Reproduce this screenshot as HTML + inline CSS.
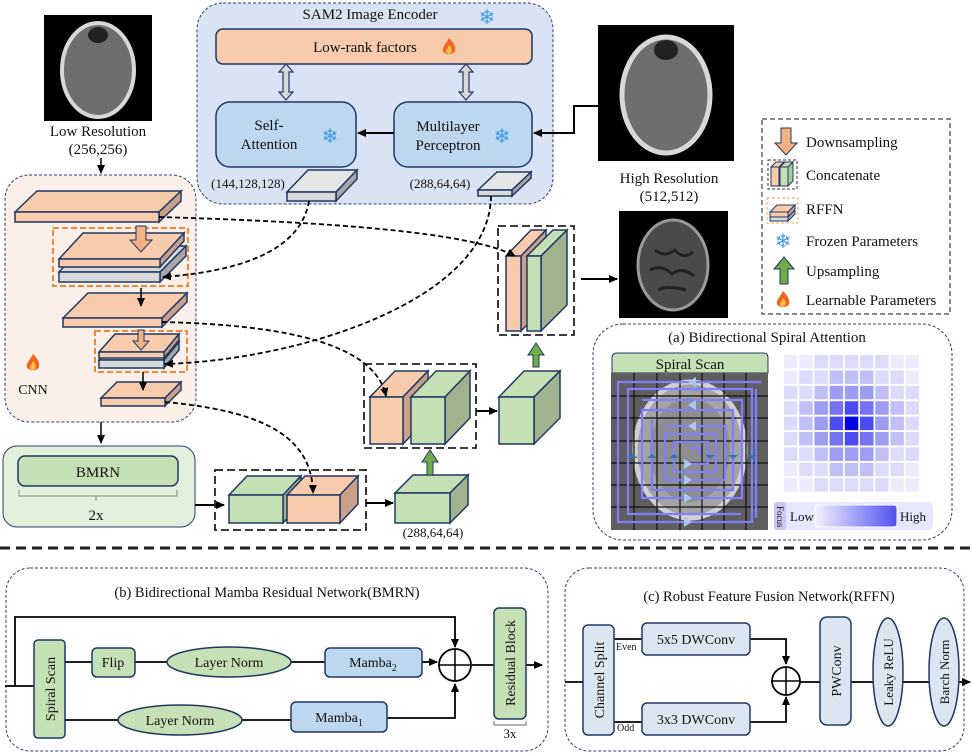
<!DOCTYPE html>
<html><head><meta charset="utf-8"><style>
html,body{margin:0;padding:0;background:#fff}
svg{display:block}
text{font-family:"Liberation Serif",serif}
.sf{font-family:"DejaVu Sans",sans-serif}
</style></head><body>
<svg width="972" height="754" viewBox="0 0 972 754" xmlns="http://www.w3.org/2000/svg" fill="#111">
<defs>
<marker id="ah" markerWidth="10" markerHeight="10" refX="8" refY="5" orient="auto" markerUnits="userSpaceOnUse"><path d="M0,1 L9,5 L0,9 Z" fill="#000"/></marker>
<g id="fire"><path d="M0,-9 C5,-4 7,0 6,4 C5,8 -5,8 -6,4 C-7,0 -3,-3 0,-9 Z" fill="#f26522"/><path d="M0,-2 C3,1 3,4 2,6 C0,7 -2,7 -3,5 C-3,3 -1,1 0,-2 Z" fill="#fcc33d"/></g>
</defs>

<!-- Low res image -->
<rect x="44" y="15" width="108" height="106" fill="#000"/>
<ellipse cx="98" cy="70" rx="36" ry="47" fill="#6e6e6e" stroke="#d8d8d8" stroke-width="4"/>
<ellipse cx="98" cy="35" rx="10" ry="8" fill="#222"/>
<text x="98" y="136" font-size="15" text-anchor="middle">Low Resolution</text>
<text x="98" y="154" font-size="15" text-anchor="middle">(256,256)</text>
<line x1="101" y1="158" x2="101" y2="173" stroke="#000" stroke-width="1.5" marker-end="url(#ah)"/>

<!-- SAM2 -->
<rect x="197" y="3" width="356" height="201" rx="26" fill="#dae3f3" stroke="#2f3f6e" stroke-dasharray="3,2"/>
<text x="370" y="19" font-size="15" text-anchor="middle">SAM2 Image Encoder</text>
<text x="487" y="24" font-size="20" text-anchor="middle" class="sf" fill="#3d9be9">❄</text>
<rect x="216" y="29" width="316" height="35" rx="7" fill="#f8cbad" stroke="#203864" stroke-width="1.5"/>
<text x="365" y="52" font-size="15" text-anchor="middle">Low-rank factors</text>
<use href="#fire" x="449" y="47"/>
<g fill="#d9d9d9" stroke="#203864" stroke-width="1.2">
<path d="M286,64 L293,72 L289,72 L289,92 L293,92 L286,100 L279,92 L283,92 L283,72 L279,72 Z"/>
<path d="M466,64 L473,72 L469,72 L469,92 L473,92 L466,100 L459,92 L463,92 L463,72 L459,72 Z"/>
</g>
<rect x="216" y="102" width="140" height="65" rx="14" fill="#bdd7ee" stroke="#203864" stroke-width="1.5"/>
<text x="269" y="130" font-size="15" text-anchor="middle">Self-</text>
<text x="269" y="149" font-size="15" text-anchor="middle">Attention</text>
<text x="330" y="143" font-size="20" text-anchor="middle" class="sf" fill="#3d9be9">❄</text>
<rect x="394" y="102" width="138" height="65" rx="14" fill="#bdd7ee" stroke="#203864" stroke-width="1.5"/>
<text x="448" y="131" font-size="15" text-anchor="middle">Multilayer</text>
<text x="448" y="150" font-size="15" text-anchor="middle">Perceptron</text>
<text x="502" y="143" font-size="20" text-anchor="middle" class="sf" fill="#3d9be9">❄</text>
<line x1="394" y1="133" x2="358" y2="133" stroke="#000" stroke-width="2" marker-end="url(#ah)"/>
<!-- gray slabs -->
<g stroke="#203864" stroke-width="1.5">
<polygon points="287,192 308,170 357,170 336,192" fill="#e6e6e6"/>
<polygon points="336,192 357,170 357,179 336,201" fill="#a6a6a6"/>
<rect x="287" y="192" width="49" height="9" fill="#d9d9d9"/>
<polygon points="478,190 497,172 531,172 512,190" fill="#e6e6e6"/>
<polygon points="512,190 531,172 531,178 512,196" fill="#a6a6a6"/>
<rect x="478" y="190" width="34" height="6" fill="#d9d9d9"/>
</g>
<text x="248" y="188" font-size="13" text-anchor="middle">(144,128,128)</text>
<text x="440" y="188" font-size="13" text-anchor="middle">(288,64,64)</text>

<!-- High res -->
<rect x="598" y="25" width="136" height="136" fill="#000"/>
<ellipse cx="666" cy="95" rx="44" ry="58" fill="#6e6e6e" stroke="#d8d8d8" stroke-width="5"/>
<ellipse cx="666" cy="50" rx="12" ry="10" fill="#222"/>
<text x="669" y="183" font-size="15" text-anchor="middle">High Resolution</text>
<text x="669" y="201" font-size="15" text-anchor="middle">(512,512)</text>
<polyline points="598,106 574,106 574,133 534,133" fill="none" stroke="#000" stroke-width="2" marker-end="url(#ah)"/>
<!-- MRI -->
<rect x="619" y="211" width="109" height="107" fill="#000"/>
<ellipse cx="673" cy="265" rx="35" ry="45" fill="#4a4a4a" stroke="#9a9a9a" stroke-width="3"/>
<path d="M655,250 q10,8 20,0 q8,10 18,2 M650,270 q12,-6 22,4 q10,-8 22,2 M658,290 q10,-5 28,0" stroke="#222" stroke-width="3" fill="none"/>

<!-- Legend -->
<rect x="762" y="119" width="188" height="195" fill="#fff" stroke="#444" stroke-dasharray="5,3" stroke-width="1.2"/>
<path d="M781,128 L791,128 L791,143 L797,143 L786,155 L775,143 L781,143 Z" fill="#f4b183" stroke="#203864"/>
<rect x="768" y="160" width="29" height="29" fill="none" stroke="#333" stroke-dasharray="3,2"/>
<g stroke="#203864" stroke-width="1">
<polygon points="771,167 776,162 784,162 779,167" fill="#f8cbad"/><rect x="771" y="167" width="8" height="19" fill="#f8cbad"/>
<polygon points="780,167 785,162 793,162 788,167" fill="#c5e0b4"/><rect x="780" y="167" width="8" height="19" fill="#c5e0b4"/>
<polygon points="788,167 793,162 793,181 788,186" fill="#a9d18e"/>
</g>
<rect x="767" y="198" width="31" height="25" fill="none" stroke="#f4a460" stroke-dasharray="3,2"/>
<g stroke="#203864" stroke-width="1">
<polygon points="770,212 777,205 795,205 788,212" fill="#f8cbad"/><rect x="770" y="212" width="18" height="5" fill="#f8cbad"/><polygon points="788,212 795,205 795,210 788,217" fill="#c9a08a"/>
<rect x="770" y="217" width="18" height="4" fill="#d9d9d9"/><polygon points="788,217 795,210 795,214 788,221" fill="#aaa"/>
</g>
<text x="783" y="248" font-size="20" text-anchor="middle" class="sf" fill="#3d9be9">❄</text>
<path d="M780,284 L788,284 L788,269 L794,269 L784,257 L774,269 L780,269 Z" fill="#70ad47" stroke="#203864"/>
<use href="#fire" x="783" y="300"/>
<g font-size="15">
<text x="806" y="147">Downsampling</text>
<text x="806" y="180">Concatenate</text>
<text x="806" y="214">RFFN</text>
<text x="806" y="246">Frozen Parameters</text>
<text x="806" y="276">Upsampling</text>
<text x="806" y="305">Learnable Parameters</text>
</g>

<!-- CNN box -->
<rect x="5" y="175" width="191" height="247" rx="24" fill="#fbf0e9" stroke="#2f3f6e" stroke-dasharray="3,2"/>
<g stroke="#203864" stroke-width="1.5">
<polygon points="15,212 37,191 181,191 159,212" fill="#f8cbad"/><polygon points="159,212 181,191 181,201 159,222" fill="#c9a08a"/><rect x="15" y="212" width="144" height="10" fill="#f8cbad"/>
<polygon points="59,272 83,246 186,246 160,272" fill="#d9d9d9"/><polygon points="160,272 186,246 186,256 160,282" fill="#a6a6a6"/><rect x="59" y="272" width="101" height="10" fill="#d9d9d9"/>
<polygon points="59,259 83,233 184,233 160,259" fill="#f8cbad"/><polygon points="160,259 184,233 184,241 160,267" fill="#c9a08a"/><rect x="59" y="259" width="101" height="8" fill="#f8cbad"/>
<polygon points="63,318 88,293 187,293 162,318" fill="#f8cbad"/><polygon points="162,318 187,293 187,302 162,327" fill="#c9a08a"/><rect x="63" y="318" width="99" height="9" fill="#f8cbad"/>
<polygon points="99,360 114,342 179,342 164,360" fill="#d9d9d9"/><polygon points="164,360 179,342 179,350 164,368" fill="#a6a6a6"/><rect x="99" y="360" width="65" height="8" fill="#d9d9d9"/>
<polygon points="99,352 115,334 179,334 164,352" fill="#f8cbad"/><polygon points="164,352 179,334 179,340 164,358" fill="#c9a08a"/><rect x="99" y="352" width="65" height="6" fill="#f8cbad"/>
<polygon points="101,398 117,382 181,382 165,398" fill="#f8cbad"/><polygon points="165,398 181,382 181,390 165,406" fill="#c9a08a"/><rect x="101" y="398" width="64" height="8" fill="#f8cbad"/>
</g>
<rect x="53" y="228" width="135" height="58" fill="none" stroke="#f4883a" stroke-width="2" stroke-dasharray="6,3"/>
<rect x="95" y="331" width="92" height="41" fill="none" stroke="#f4883a" stroke-width="2" stroke-dasharray="6,3"/>
<path d="M136,226 L146,226 L146,240 L152,240 L141,252 L130,240 L136,240 Z" fill="#f4b183" stroke="#203864"/>
<path d="M138,330 L144,330 L144,341 L149,341 L141,350 L133,341 L138,341 Z" fill="#f4b183" stroke="#203864"/>
<line x1="141" y1="288" x2="141" y2="306" stroke="#000" stroke-width="1.5" marker-end="url(#ah)"/>
<line x1="143" y1="372" x2="143" y2="390" stroke="#000" stroke-width="1.5" marker-end="url(#ah)"/>
<use href="#fire" x="33" y="363"/>
<text x="33" y="394" font-size="14" text-anchor="middle">CNN</text>
<line x1="101" y1="422" x2="101" y2="443" stroke="#000" stroke-width="1.5" marker-end="url(#ah)"/>

<!-- BMRN -->
<rect x="3" y="446" width="192" height="81" rx="14" fill="#e2efda" stroke="#2f3f6e" stroke-width="1"/>
<rect x="18" y="456" width="160" height="30" rx="7" fill="#c5e0b4" stroke="#203864" stroke-width="1.5"/>
<text x="98" y="477" font-size="15" text-anchor="middle">BMRN</text>
<path d="M19,490 L19,496 L96,496 L96,501 M96,496 L177,496 L177,490" fill="none" stroke="#888"/>
<text x="96" y="520" font-size="15" text-anchor="middle">2x</text>
<line x1="195" y1="505" x2="224" y2="505" stroke="#000" stroke-width="2" marker-end="url(#ah)"/>

<!-- Concat A -->
<rect x="215" y="470" width="151" height="60" fill="none" stroke="#222" stroke-width="1.8" stroke-dasharray="8,4"/>
<g stroke="#203864" stroke-width="1.5">
<polygon points="229,495 247,476 301,476 283,495" fill="#c5e0b4"/><polygon points="283,495 301,476 301,504 283,523" fill="#9fb38f"/><rect x="229" y="495" width="54" height="28" fill="#c5e0b4"/>
<polygon points="287,495 305,476 358,476 340,495" fill="#f8cbad"/><polygon points="340,495 358,476 358,504 340,523" fill="#c9a08a"/><rect x="287" y="495" width="53" height="28" fill="#f8cbad"/>
<polygon points="395,493 413,475 468,475 450,493" fill="#c5e0b4"/><polygon points="450,493 468,475 468,505 450,523" fill="#9fb38f"/><rect x="395" y="493" width="55" height="30" fill="#c5e0b4"/>
</g>
<line x1="366" y1="503" x2="393" y2="503" stroke="#000" stroke-width="2" marker-end="url(#ah)"/>
<text x="433" y="537" font-size="13" text-anchor="middle">(288,64,64)</text>
<path d="M427,475 L433,475 L433,462 L438,462 L430,450 L422,462 L427,462 Z" fill="#70ad47" stroke="#203864"/>

<!-- Concat B -->
<rect x="364" y="364" width="112" height="84" fill="none" stroke="#222" stroke-width="1.8" stroke-dasharray="8,4"/>
<g stroke="#203864" stroke-width="1.5">
<polygon points="370,397 395,371 428,371 403,397" fill="#f8cbad"/><polygon points="403,397 428,371 428,418 403,444" fill="#c9a08a"/><rect x="370" y="397" width="33" height="47" fill="#f8cbad"/>
<polygon points="411,397 436,371 470,371 445,397" fill="#c5e0b4"/><polygon points="445,397 470,371 470,418 445,444" fill="#9fb38f"/><rect x="411" y="397" width="34" height="47" fill="#c5e0b4"/>
<polygon points="499,397 524,371 560,371 534,397" fill="#c5e0b4"/><polygon points="534,397 560,371 560,418 534,444" fill="#9fb38f"/><rect x="499" y="397" width="35" height="47" fill="#c5e0b4"/>
</g>
<line x1="476" y1="411" x2="497" y2="411" stroke="#000" stroke-width="2" marker-end="url(#ah)"/>
<path d="M533,367 L539,367 L539,355 L544,355 L536,343 L528,355 L533,355 Z" fill="#70ad47" stroke="#203864"/>

<!-- Concat C -->
<rect x="498" y="226" width="76" height="109" fill="none" stroke="#222" stroke-width="1.8" stroke-dasharray="8,4"/>
<g stroke="#203864" stroke-width="1.5">
<polygon points="506,256 531,230 546,230 521,256" fill="#f8cbad"/><polygon points="521,256 546,230 546,305 521,331" fill="#c9a08a"/><rect x="506" y="256" width="15" height="75" fill="#f8cbad"/>
<polygon points="527,256 553,230 567,230 541,256" fill="#c5e0b4"/><polygon points="541,256 567,230 567,305 541,331" fill="#9fb38f"/><rect x="527" y="256" width="14" height="75" fill="#c5e0b4"/>
</g>
<line x1="581" y1="279" x2="617" y2="279" stroke="#000" stroke-width="2" marker-end="url(#ah)"/>

<!-- dashed curves -->
<g fill="none" stroke="#000" stroke-width="1.8" stroke-dasharray="5,3" marker-end="url(#ah)">
<path d="M159,217 C330,222 470,232 515,256"/>
<path d="M309,201 C300,255 230,272 163,277"/>
<path d="M491,196 C490,300 300,360 165,364"/>
<path d="M162,322 C290,325 375,345 386,396"/>
<path d="M165,402 C250,410 312,430 313,493"/>
</g>

<!-- (a) panel -->
<rect x="593" y="324" width="359" height="216" rx="30" fill="#fff" stroke="#2f3f6e" stroke-dasharray="3,2"/>
<text x="767" y="342" font-size="15" text-anchor="middle">(a) Bidirectional Spiral Attention</text>
<path d="M612,373 L612,358 Q612,353 617,353 L763,353 Q768,353 768,358 L768,373 Z" fill="#c5e0b4" stroke="#203864"/>
<text x="690" y="369" font-size="15" text-anchor="middle">Spiral Scan</text>
<rect x="611" y="373" width="157" height="157" fill="#5e5e5e"/>
<ellipse cx="690" cy="450" rx="55" ry="68" fill="#a3a3a3" stroke="#d0d0d0" stroke-width="5"/>
<ellipse cx="690" cy="450" rx="40" ry="52" fill="#8e8e8e"/>
<g stroke="#111" stroke-width="1.2">
<line x1="634" y1="373" x2="634" y2="530"/><line x1="657" y1="373" x2="657" y2="530"/><line x1="680" y1="373" x2="680" y2="530"/><line x1="702" y1="373" x2="702" y2="530"/><line x1="724" y1="373" x2="724" y2="530"/><line x1="746" y1="373" x2="746" y2="530"/>
<line x1="611" y1="396" x2="768" y2="396"/><line x1="611" y1="418" x2="768" y2="418"/><line x1="611" y1="441" x2="768" y2="441"/><line x1="611" y1="463" x2="768" y2="463"/><line x1="611" y1="485" x2="768" y2="485"/><line x1="611" y1="507" x2="768" y2="507"/>
</g>
<g fill="none" stroke="#8080ff" stroke-width="2.2">
<polyline points="761,382 618,382 618,522 752,522 752,389 628,389 628,514 741,514"/>
<polyline points="756,389 756,518"/>
<polyline points="642,400 742,400 742,498 642,498 642,410 733,410 733,490 652,490 652,420"/>
<polyline points="665,426 725,426 725,480 665,480 665,434 716,434 716,472 674,472 674,442 708,442 708,464 690,464"/>
<polyline points="690,448 700,448 700,456"/>
</g>
<g fill="#a8c8f0">
<path d="M688,382 l8,-5 v10 z"/><path d="M688,405 l8,-5 v10 z"/><path d="M688,426 l8,-5 v10 z"/>
<path d="M692,522 l-8,-5 v10 z"/><path d="M692,498 l-8,-5 v10 z"/><path d="M692,480 l-8,-5 v10 z"/><path d="M692,464 l-8,-5 v10 z"/>
</g>
<g fill="#2e75b6">
<path d="M628,458 l5,-4 l5,4 z"/><path d="M647,458 l5,-4 l5,4 z"/><path d="M669,458 l5,-4 l5,4 z"/>
<path d="M705,455 l5,4 l5,-4 z"/><path d="M728,455 l5,4 l5,-4 z"/><path d="M747,455 l5,4 l5,-4 z"/>
</g>
<!-- heatmap -->
<g>
<g fill="#ececfc"><rect x="784" y="355" width="13.5" height="13.5"/><rect x="799.2" y="355" width="13.5" height="13.5"/><rect x="890.4" y="355" width="13.5" height="13.5"/><rect x="905.6" y="355" width="13.5" height="13.5"/><rect x="784" y="370.4" width="13.5" height="13.5"/><rect x="905.6" y="370.4" width="13.5" height="13.5"/>
<rect x="784" y="478.2" width="13.5" height="13.5"/><rect x="799.2" y="478.2" width="13.5" height="13.5"/><rect x="890.4" y="478.2" width="13.5" height="13.5"/><rect x="905.6" y="478.2" width="13.5" height="13.5"/><rect x="784" y="462.8" width="13.5" height="13.5"/><rect x="905.6" y="462.8" width="13.5" height="13.5"/></g>
<g fill="#dcdcfa">
<rect x="814.4" y="355" width="13.5" height="13.5"/><rect x="829.6" y="355" width="13.5" height="13.5"/><rect x="844.8" y="355" width="13.5" height="13.5"/><rect x="860" y="355" width="13.5" height="13.5"/><rect x="875.2" y="355" width="13.5" height="13.5"/>
<rect x="814.4" y="478.2" width="13.5" height="13.5"/><rect x="829.6" y="478.2" width="13.5" height="13.5"/><rect x="844.8" y="478.2" width="13.5" height="13.5"/><rect x="860" y="478.2" width="13.5" height="13.5"/><rect x="875.2" y="478.2" width="13.5" height="13.5"/>
<rect x="799.2" y="370.4" width="13.5" height="13.5"/><rect x="814.4" y="370.4" width="13.5" height="13.5"/><rect x="875.2" y="370.4" width="13.5" height="13.5"/><rect x="890.4" y="370.4" width="13.5" height="13.5"/>
<rect x="799.2" y="462.8" width="13.5" height="13.5"/><rect x="814.4" y="462.8" width="13.5" height="13.5"/><rect x="875.2" y="462.8" width="13.5" height="13.5"/><rect x="890.4" y="462.8" width="13.5" height="13.5"/>
<rect x="784" y="385.8" width="13.5" height="13.5"/><rect x="799.2" y="385.8" width="13.5" height="13.5"/><rect x="890.4" y="385.8" width="13.5" height="13.5"/><rect x="905.6" y="385.8" width="13.5" height="13.5"/>
<rect x="784" y="447.4" width="13.5" height="13.5"/><rect x="799.2" y="447.4" width="13.5" height="13.5"/><rect x="890.4" y="447.4" width="13.5" height="13.5"/><rect x="905.6" y="447.4" width="13.5" height="13.5"/>
<rect x="784" y="401.2" width="13.5" height="13.5"/><rect x="905.6" y="401.2" width="13.5" height="13.5"/><rect x="784" y="416.6" width="13.5" height="13.5"/><rect x="905.6" y="416.6" width="13.5" height="13.5"/><rect x="784" y="432" width="13.5" height="13.5"/><rect x="905.6" y="432" width="13.5" height="13.5"/>
</g>
<g fill="#c0c0f7">
<rect x="829.6" y="370.4" width="13.5" height="13.5"/><rect x="844.8" y="370.4" width="13.5" height="13.5"/><rect x="860" y="370.4" width="13.5" height="13.5"/>
<rect x="829.6" y="462.8" width="13.5" height="13.5"/><rect x="844.8" y="462.8" width="13.5" height="13.5"/><rect x="860" y="462.8" width="13.5" height="13.5"/>
<rect x="814.4" y="385.8" width="13.5" height="13.5"/><rect x="875.2" y="385.8" width="13.5" height="13.5"/><rect x="814.4" y="447.4" width="13.5" height="13.5"/><rect x="875.2" y="447.4" width="13.5" height="13.5"/>
<rect x="799.2" y="401.2" width="13.5" height="13.5"/><rect x="890.4" y="401.2" width="13.5" height="13.5"/><rect x="799.2" y="416.6" width="13.5" height="13.5"/><rect x="890.4" y="416.6" width="13.5" height="13.5"/><rect x="799.2" y="432" width="13.5" height="13.5"/><rect x="890.4" y="432" width="13.5" height="13.5"/>
</g>
<g fill="#9d9df4">
<rect x="829.6" y="385.8" width="13.5" height="13.5"/><rect x="844.8" y="385.8" width="13.5" height="13.5"/><rect x="860" y="385.8" width="13.5" height="13.5"/>
<rect x="829.6" y="447.4" width="13.5" height="13.5"/><rect x="844.8" y="447.4" width="13.5" height="13.5"/><rect x="860" y="447.4" width="13.5" height="13.5"/>
<rect x="814.4" y="401.2" width="13.5" height="13.5"/><rect x="875.2" y="401.2" width="13.5" height="13.5"/><rect x="814.4" y="416.6" width="13.5" height="13.5"/><rect x="875.2" y="416.6" width="13.5" height="13.5"/><rect x="814.4" y="432" width="13.5" height="13.5"/><rect x="875.2" y="432" width="13.5" height="13.5"/>
</g>
<g fill="#7474f2"><rect x="829.6" y="401.2" width="13.5" height="13.5"/><rect x="860" y="401.2" width="13.5" height="13.5"/><rect x="829.6" y="432" width="13.5" height="13.5"/><rect x="860" y="432" width="13.5" height="13.5"/></g>
<g fill="#4b4bf4"><rect x="844.8" y="401.2" width="13.5" height="13.5"/><rect x="844.8" y="432" width="13.5" height="13.5"/><rect x="829.6" y="416.6" width="13.5" height="13.5"/><rect x="860" y="416.6" width="13.5" height="13.5"/></g>
<rect x="844.8" y="416.6" width="13.5" height="13.5" fill="#0000e0"/>
</g>
<defs><linearGradient id="gr" x1="0" x2="1"><stop offset="0" stop-color="#f2f2ff"/><stop offset="1" stop-color="#5050f0"/></linearGradient></defs>
<rect x="774" y="502" width="159" height="28" rx="5" fill="#e6e6fc"/>
<rect x="774" y="502" width="12" height="28" rx="3" fill="#c8c8f6"/>
<text transform="translate(777,506) rotate(90)" font-size="9">Focus</text>
<text x="790" y="521" font-size="13">Low</text>
<rect x="815" y="505" width="82" height="22" rx="3" fill="url(#gr)" stroke="#fff"/>
<text x="900" y="521" font-size="13">High</text>

<!-- separator -->
<line x1="0" y1="548" x2="972" y2="548" stroke="#222" stroke-width="3" stroke-dasharray="10,6"/>

<!-- (b) -->
<rect x="6" y="568" width="542" height="183" rx="24" fill="#fff" stroke="#2f3f6e" stroke-dasharray="3,2"/>
<text x="267" y="597" font-size="14.5" text-anchor="middle">(b) Bidirectional Mamba Residual Network(BMRN)</text>
<g stroke="#000" stroke-width="1.8" fill="none">
<polyline points="5,686 34,686"/>
<polyline points="15,686 15,617 455,617 455,647" marker-end="url(#ah)"/>
<line x1="65" y1="662" x2="92" y2="662"/>
<line x1="135" y1="662" x2="167" y2="662"/>
<line x1="291" y1="662" x2="325" y2="662"/>
<line x1="422" y1="662" x2="437" y2="662" marker-end="url(#ah)"/>
<line x1="65" y1="720" x2="118" y2="720"/>
<line x1="242" y1="720" x2="291" y2="720"/>
<polyline points="387,718 455,718 455,684" marker-end="url(#ah)"/>
<line x1="472" y1="665" x2="494" y2="665"/>
<line x1="526" y1="665" x2="542" y2="665" marker-end="url(#ah)"/>
</g>
<rect x="34" y="640" width="31" height="98" rx="4" fill="#c5e0b4" stroke="#203864" stroke-width="1.5"/>
<text transform="translate(55,689) rotate(-90)" font-size="14" text-anchor="middle">Spiral Scan</text>
<rect x="92" y="648" width="43" height="29" rx="5" fill="#c5e0b4" stroke="#203864" stroke-width="1.5"/>
<text x="113" y="667" font-size="14" text-anchor="middle">Flip</text>
<ellipse cx="229" cy="662" rx="62" ry="15" fill="#c5e0b4" stroke="#203864" stroke-width="1.5"/>
<text x="229" y="667" font-size="14" text-anchor="middle">Layer Norm</text>
<rect x="325" y="648" width="97" height="29" rx="5" fill="#bdd7ee" stroke="#203864" stroke-width="1.5"/>
<text x="373" y="667" font-size="14" text-anchor="middle">Mamba<tspan font-size="10" dy="4">2</tspan></text>
<ellipse cx="180" cy="720" rx="62" ry="15" fill="#c5e0b4" stroke="#203864" stroke-width="1.5"/>
<text x="180" y="725" font-size="14" text-anchor="middle">Layer Norm</text>
<rect x="291" y="702" width="96" height="30" rx="5" fill="#bdd7ee" stroke="#203864" stroke-width="1.5"/>
<text x="339" y="722" font-size="14" text-anchor="middle">Mamba<tspan font-size="10" dy="4">1</tspan></text>
<circle cx="455" cy="665" r="16" fill="#fff" stroke="#000" stroke-width="1.8"/>
<line x1="439" y1="665" x2="471" y2="665" stroke="#000" stroke-width="1.5"/><line x1="455" y1="649" x2="455" y2="681" stroke="#000" stroke-width="1.5"/>
<rect x="494" y="608" width="32" height="111" rx="5" fill="#c5e0b4" stroke="#203864" stroke-width="1.5"/>
<text transform="translate(515,663) rotate(-90)" font-size="14" text-anchor="middle">Residual Block</text>
<path d="M494,721 L494,725 L526,725 L526,721" fill="none" stroke="#666"/>
<text x="510" y="738" font-size="13" text-anchor="middle">3x</text>

<!-- (c) -->
<rect x="565" y="568" width="399" height="183" rx="24" fill="#fff" stroke="#2f3f6e" stroke-dasharray="3,2"/>
<text x="769" y="601" font-size="14.5" text-anchor="middle">(c) Robust Feature Fusion Network(RFFN)</text>
<g stroke="#000" stroke-width="1.8" fill="none">
<line x1="565" y1="682" x2="583" y2="682"/>
<line x1="614" y1="639" x2="642" y2="639"/>
<line x1="614" y1="722" x2="642" y2="722"/>
<polyline points="750,639 786,639 786,664" marker-end="url(#ah)"/>
<polyline points="750,722 786,722 786,697" marker-end="url(#ah)"/>
<line x1="800" y1="682" x2="820" y2="682"/>
<line x1="851" y1="682" x2="873" y2="682"/>
<line x1="903" y1="682" x2="929" y2="682"/>
<line x1="959" y1="682" x2="970" y2="682" marker-end="url(#ah)"/>
</g>
<rect x="583" y="625" width="31" height="110" rx="5" fill="#dce6f2" stroke="#203864" stroke-width="1.5"/>
<text transform="translate(604,680) rotate(-90)" font-size="14" text-anchor="middle">Channel Split</text>
<text x="616" y="650" font-size="10">Even</text>
<text x="617" y="731" font-size="10">Odd</text>
<rect x="642" y="623" width="108" height="32" rx="5" fill="#dce6f2" stroke="#203864" stroke-width="1.5"/>
<text x="696" y="644" font-size="14" text-anchor="middle">5x5 DWConv</text>
<rect x="642" y="703" width="108" height="32" rx="5" fill="#dce6f2" stroke="#203864" stroke-width="1.5"/>
<text x="696" y="724" font-size="14" text-anchor="middle">3x3 DWConv</text>
<circle cx="786" cy="681" r="14" fill="#fff" stroke="#000" stroke-width="1.8"/>
<line x1="772" y1="681" x2="800" y2="681" stroke="#000" stroke-width="1.5"/><line x1="786" y1="667" x2="786" y2="695" stroke="#000" stroke-width="1.5"/>
<rect x="820" y="617" width="31" height="108" rx="7" fill="#dce6f2" stroke="#203864" stroke-width="1.5"/>
<text transform="translate(841,671) rotate(-90)" font-size="14" text-anchor="middle">PWConv</text>
<ellipse cx="888" cy="672" rx="15" ry="54" fill="#dce6f2" stroke="#203864" stroke-width="1.5"/>
<text transform="translate(893,672) rotate(-90)" font-size="13" text-anchor="middle">Leaky ReLU</text>
<ellipse cx="944" cy="672" rx="15" ry="54" fill="#dce6f2" stroke="#203864" stroke-width="1.5"/>
<text transform="translate(949,672) rotate(-90)" font-size="13" text-anchor="middle">Barch Norm</text>
</svg>
</body></html>
